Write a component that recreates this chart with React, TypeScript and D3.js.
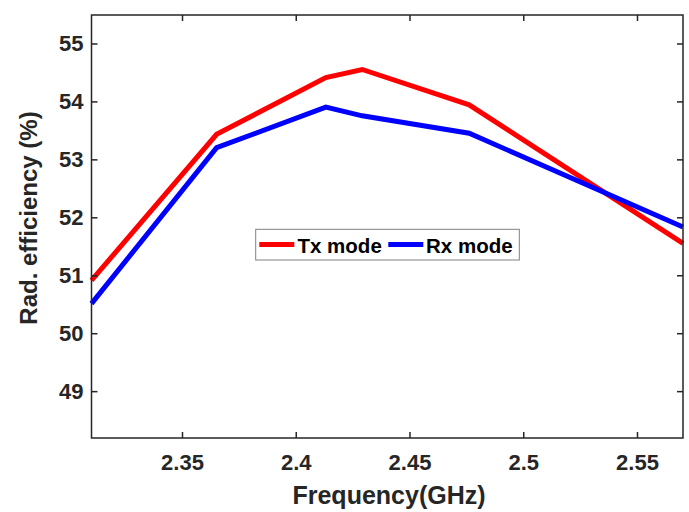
import React from "react";
import * as d3 from "d3";

const freqs = [2.31, 2.365, 2.413, 2.429, 2.476, 2.57];
const txMode = [50.92, 53.44, 54.42, 54.56, 53.95, 51.56];
const rxMode = [50.52, 53.21, 53.91, 53.76, 53.46, 51.84];
const xTicks = [2.35, 2.4, 2.45, 2.5, 2.55];
const yTicks = [49, 50, 51, 52, 53, 54, 55];
const seriesNames = ["Tx mode", "Rx mode"];
const seriesColors = ["#ff0000", "#0000ff"];

const W = 689;
const H = 512;
const L = 91.5;
const R = 683;
const T = 15;
const B = 438;
const AX = "#262626";
const FONT = "'Liberation Sans', Arial, Helvetica, sans-serif";

export default function App() {
  const x = d3.scaleLinear().domain([2.31, 2.57]).range([L, R]);
  const y = d3.scaleLinear().domain([48.2, 55.5]).range([B, T]);
  const line = d3
    .line<number>()
    .x((_, i) => x(freqs[i]))
    .y((d) => y(d));
  const series = [txMode, rxMode];
  const tl = 6;

  return (
    <div style={{ position: "fixed", left: 0, top: 0 }}>
      <svg width={W} height={H} style={{ display: "block", background: "#fff" }}>
        <rect x={0} y={0} width={W} height={H} fill="#fff" />
        <g>
          {series.map((s, i) => (
            <path
              key={i}
              d={line(s) || ""}
              fill="none"
              stroke={seriesColors[i]}
              strokeWidth={5}
              strokeLinejoin="miter"
            />
          ))}
        </g>
        <rect x={L} y={T} width={R - L} height={B - T} fill="none" stroke={AX} strokeWidth={1.5} />
        {xTicks.map((t) => (
          <g key={"x" + t}>
            <line x1={x(t)} x2={x(t)} y1={B} y2={B - tl} stroke={AX} strokeWidth={1.5} />
            <line x1={x(t)} x2={x(t)} y1={T} y2={T + tl} stroke={AX} strokeWidth={1.5} />
            <text
              x={x(t)}
              y={462}
              textAnchor="middle"
              dominantBaseline="central"
              fontFamily={FONT}
              fontWeight="bold"
              fontSize={22}
              fill={AX}
            >
              {String(t)}
            </text>
          </g>
        ))}
        {yTicks.map((t) => (
          <g key={"y" + t}>
            <line x1={L} x2={L + tl} y1={y(t)} y2={y(t)} stroke={AX} strokeWidth={1.5} />
            <line x1={R} x2={R - tl} y1={y(t)} y2={y(t)} stroke={AX} strokeWidth={1.5} />
            <text
              x={83.5}
              y={y(t)}
              textAnchor="end"
              dominantBaseline="central"
              fontFamily={FONT}
              fontWeight="bold"
              fontSize={22}
              fill={AX}
            >
              {String(t)}
            </text>
          </g>
        ))}
        <text
          x={389}
          y={495}
          textAnchor="middle"
          dominantBaseline="central"
          fontFamily={FONT}
          fontWeight="bold"
          fontSize={25}
          fill={AX}
        >
          Frequency(GHz)
        </text>
        <text
          transform={`translate(28,218) rotate(-90)`}
          textAnchor="middle"
          dominantBaseline="central"
          fontFamily={FONT}
          fontWeight="bold"
          fontSize={24}
          fill={AX}
        >
          Rad. efficiency (%)
        </text>
        <g>
          <rect x={255.7} y={229.3} width={263.6} height={30.7} fill="#fff" stroke="#808080" strokeWidth={1} />
          <line x1={259.3} x2={294.3} y1={244.5} y2={244.5} stroke={seriesColors[0]} strokeWidth={5} />
          <text x={297.5} y={245} dominantBaseline="central" fontFamily={FONT} fontWeight="bold" fontSize={20.5} fill="#000">
            {seriesNames[0]}
          </text>
          <line x1={388.3} x2={423.3} y1={244.5} y2={244.5} stroke={seriesColors[1]} strokeWidth={5} />
          <text x={426} y={245} dominantBaseline="central" fontFamily={FONT} fontWeight="bold" fontSize={20.5} fill="#000">
            {seriesNames[1]}
          </text>
        </g>
      </svg>
    </div>
  );
}
